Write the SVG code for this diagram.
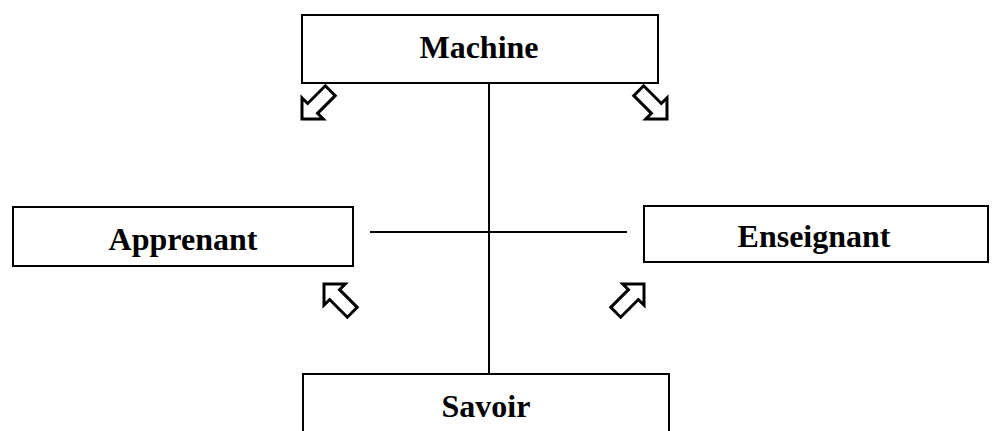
<svg xmlns="http://www.w3.org/2000/svg" width="1000" height="431" viewBox="0 0 1000 431">
<style>
.box{fill:#fff;stroke:#000;stroke-width:2}
.lbl{font-family:"Liberation Serif","Times New Roman",serif;font-weight:bold;font-size:32px;fill:#000;text-anchor:middle}
.ln{stroke:#000;stroke-width:2;fill:none}
.arr{fill:#fff;stroke:#000;stroke-width:3;stroke-linejoin:miter}
</style>
<defs>
<polygon id="blk" points="0,0 -15,-15 -15,-7 -40,-7 -40,7 -15,7 -15,15"/>
</defs>
<rect width="1000" height="431" fill="#fff"/>
<g id="connectors">
<line class="ln" x1="489" y1="83" x2="489" y2="374"/>
<line class="ln" x1="370" y1="232" x2="627" y2="232"/>
<use href="#blk" class="arr" transform="translate(302,119) rotate(135)"/>
<use href="#blk" class="arr" transform="translate(667,119) rotate(45)"/>
<use href="#blk" class="arr" transform="translate(324,284) rotate(-135)"/>
<use href="#blk" class="arr" transform="translate(644,284) rotate(-45)"/>
</g>
<g id="machine">
<rect class="box" x="302" y="15" width="356" height="68"/>
<text class="lbl" x="479" y="58">Machine</text>
</g>
<g id="apprenant">
<rect class="box" x="13" y="207" width="340" height="59"/>
<text class="lbl" x="183" y="250">Apprenant</text>
</g>
<g id="enseignant">
<rect class="box" x="644" y="206" width="344" height="56"/>
<text class="lbl" x="814" y="247">Enseignant</text>
</g>
<g id="savoir">
<rect class="box" x="303" y="374" width="366" height="70"/>
<text class="lbl" x="486" y="417">Savoir</text>
</g>
</svg>
